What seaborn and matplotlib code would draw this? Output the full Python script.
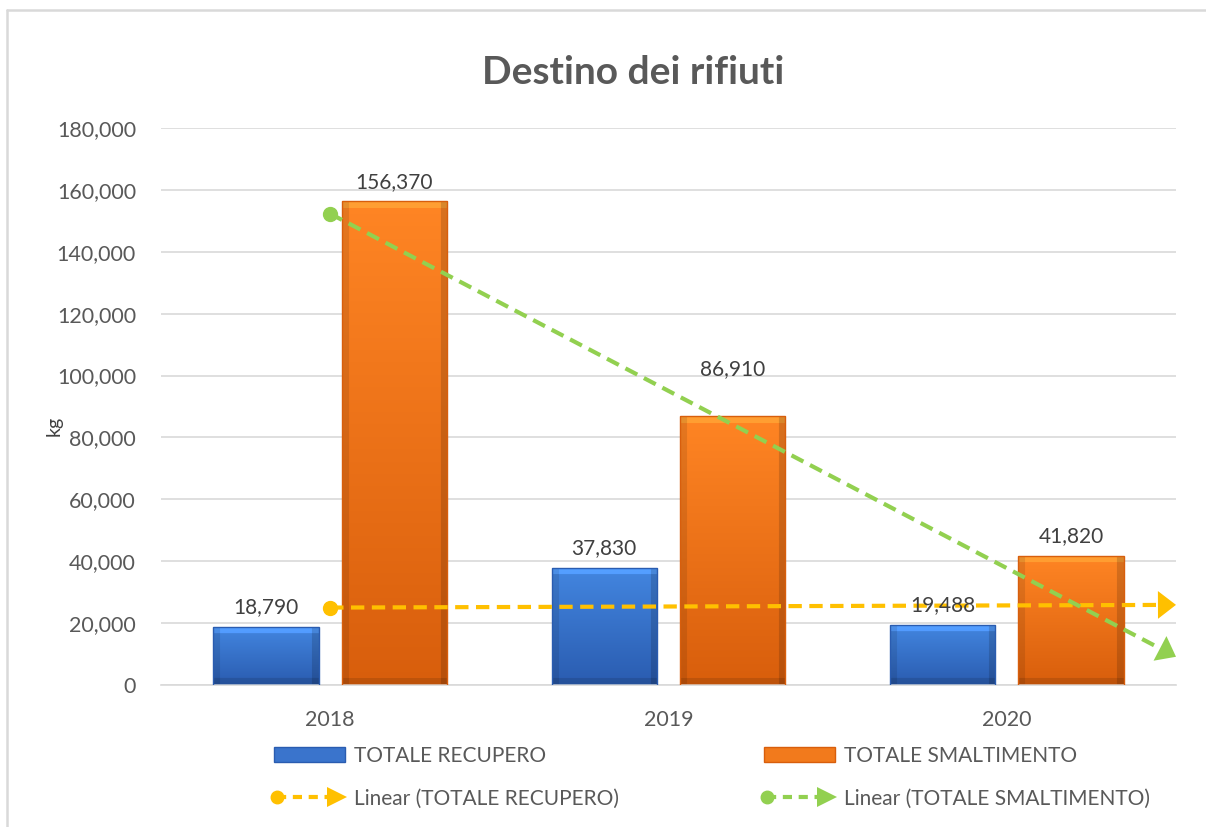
import numpy as np
import pandas as pd
import seaborn as sns
import matplotlib.pyplot as plt
from matplotlib.lines import Line2D
from matplotlib.patches import Rectangle
from matplotlib.legend_handler import HandlerBase
from matplotlib.colors import to_rgb

# dati
anni = ["2018", "2019", "2020"]
recupero = [18790, 37830, 19488]
smaltimento = [156370, 86910, 41820]
serie = ["TOTALE RECUPERO", "TOTALE SMALTIMENTO"]

df = pd.DataFrame({
    "anno": anni * 2,
    "kg": recupero + smaltimento,
    "serie": [serie[0]] * 3 + [serie[1]] * 3,
})

sns.set_style("white")
plt.rcParams["font.family"] = ["Lato", "DejaVu Sans"]

grigio = "#595959"
blu_top, blu_bot = "#4386e0", "#2a5cb0"
ara_top, ara_bot = "#ff8524", "#d85e0c"
giallo = "#FFC000"
verde = "#92D050"

fig = plt.figure(figsize=(12.06, 8.27), dpi=100)
ax = fig.add_axes([161 / 1206, 1 - 685 / 827, (1176 - 161) / 1206, (685 - 128) / 827])

sns.barplot(data=df, x="anno", y="kg", hue="serie", order=anni, hue_order=serie,
            palette=[blu_bot, ara_bot], width=0.76, gap=0.18, legend=False, ax=ax,
            edgecolor="none", zorder=2)

px_y = (685 - 128) / 180000  # pixel per kg


# riempimento sfumato tipo Excel (bordi smussati in pixel)
def sfumatura(c_top, c_bot, n, m=105):
    n = max(int(n), 12)
    t = np.linspace(0, 1, n)[:, None]
    a = np.array(to_rgb(c_top))
    b = np.array(to_rgb(c_bot))
    col = a * (1 - t) + b * t
    img = np.repeat(col[:, None, :], m, axis=1)
    k = 7
    img[:k] = np.clip(img[:k] * 1.12 + 0.04, 0, 1)
    img[-k:] = img[-k:] * 0.88
    img[:, :k] = img[:, :k] * 0.9
    img[:, -k:] = img[:, -k:] * 0.85
    return np.clip(img, 0, 1)


for i, p in enumerate(list(ax.patches)):
    top, bot = (blu_top, blu_bot) if i < 3 else (ara_top, ara_bot)
    x0, w, h = p.get_x(), p.get_width(), p.get_height()
    im = ax.imshow(sfumatura(top, bot, h * px_y), extent=[x0, x0 + w, 0, h], aspect="auto",
                   zorder=2.5, interpolation="bilinear")
    im.set_clip_path(p)
    ax.add_patch(Rectangle((x0, 0), w, h, fill=False, edgecolor=bot, lw=1, zorder=2.6))

# etichette dati
spost = {4: 20}
for i, p in enumerate(ax.patches[:6]):
    v = p.get_height()
    ax.annotate(f"{v:,.0f}", (p.get_x() + p.get_width() / 2, v), xytext=(0, 14 + spost.get(i, 0)),
                textcoords="offset points", ha="center", va="center", fontsize=15,
                color="#404040", zorder=4)

# linee di tendenza lineari
x = np.arange(len(anni))
for vals, c in [(recupero, giallo), (smaltimento, verde)]:
    m, q = np.polyfit(x + 1, vals, 1)
    y0 = m * 1 + q
    y1 = m * 3.5 + q
    ax.plot([0, 2.45], [y0, m * 3.45 + q], color=c, lw=3, dashes=(3.2, 1.8), zorder=3)
    ax.plot([0], [y0], marker="o", ms=10, color=c, zorder=3)
    ax.annotate("", xy=(2.5, y1), xytext=(2.44, m * 3.44 + q),
                arrowprops=dict(arrowstyle="-|>,head_length=0.65,head_width=0.5",
                                mutation_scale=20, color=c, lw=0, shrinkA=0, shrinkB=0),
                zorder=3)

ax.set_xlim(-0.5, 2.5)
ax.set_ylim(0, 180000)
ax.set_yticks(np.arange(0, 180001, 20000))
ax.set_yticklabels([f"{v:,}" for v in range(0, 180001, 20000)])
ax.yaxis.grid(True, color="#d9d9d9", lw=1.2, zorder=0)
ax.set_axisbelow(True)
for s in ["top", "right", "left"]:
    ax.spines[s].set_visible(False)
ax.spines["bottom"].set_color("#d9d9d9")
ax.spines["bottom"].set_linewidth(1.2)
ax.tick_params(axis="both", length=0, labelsize=15.5, labelcolor=grigio)
ax.tick_params(axis="y", pad=18)
ax.tick_params(axis="x", pad=18)
ax.set_xlabel("")
ax.set_ylabel("kg", fontsize=14, color="#404040")
ax.yaxis.set_label_coords(-98 / 1015, 0.465)

fig.text(633 / 1206, 1 - 72 / 827, "Destino dei rifiuti", ha="center", va="center",
         fontsize=28, fontweight="bold", color=grigio)


# legenda
class TrendHandler(HandlerBase):
    def create_artists(self, legend, orig, xd, yd, width, height, fontsize, trans):
        c = orig.get_color()
        y = height / 2 - yd
        l = Line2D([-xd + 2, width - xd - 10], [y, y], color=c, lw=3, dashes=(2.2, 1.6), transform=trans)
        d = Line2D([-xd + 2], [y], marker="o", ms=9, color=c, transform=trans)
        t = Line2D([width - xd - 6], [y], marker=">", ms=14, color=c, mew=0, transform=trans)
        return [l, d, t]


h_blu = Rectangle((0, 0), 1, 1, facecolor="#3a74cc", edgecolor=blu_bot)
h_ara = Rectangle((0, 0), 1, 1, facecolor="#f27a1c", edgecolor=ara_bot)
h_gia = Line2D([], [], color=giallo)
h_ver = Line2D([], [], color=verde)
leg = fig.legend([h_blu, h_gia, h_ara, h_ver],
                 [serie[0], "Linear (TOTALE RECUPERO)", serie[1], "Linear (TOTALE SMALTIMENTO)"],
                 ncol=2, loc="center", bbox_to_anchor=(712 / 1206, 1 - 777 / 827), frameon=False,
                 fontsize=15, handlelength=3.4, handleheight=0.7, columnspacing=7,
                 labelspacing=1.1, handletextpad=0.4,
                 handler_map={h_gia: TrendHandler(), h_ver: TrendHandler()})
for t in leg.get_texts():
    t.set_color(grigio)

# cornice del grafico
fig.add_artist(Line2D([7 / 1206, 7 / 1206], [0, 1 - 10 / 827], color="#d9d9d9", lw=1.8))
fig.add_artist(Line2D([7 / 1206, 1], [1 - 10 / 827, 1 - 10 / 827], color="#d9d9d9", lw=1.8))

fig.savefig("out.png", dpi=100)
